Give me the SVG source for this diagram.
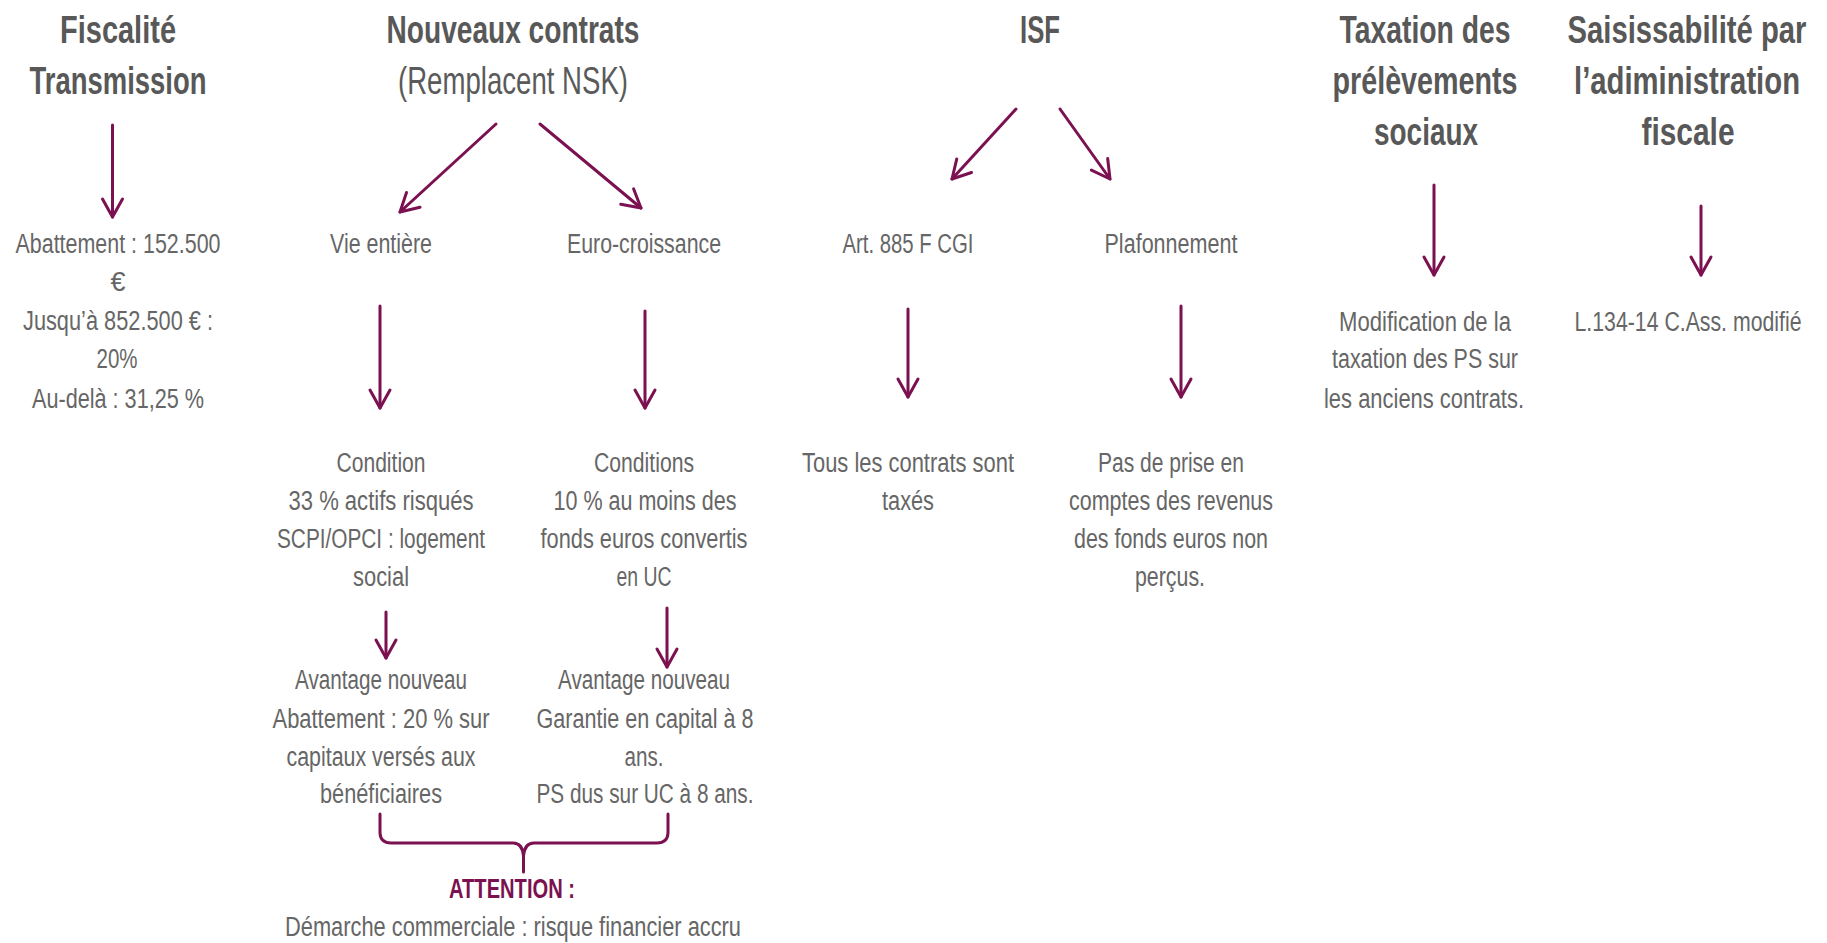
<svg xmlns="http://www.w3.org/2000/svg" width="1827" height="943" viewBox="0 0 1827 943">
<defs>
<style>
text{font-family:"Liberation Sans","DejaVu Sans",sans-serif;text-anchor:middle}
.h{font-size:39px;font-weight:bold;fill:#585858}
.hr{font-size:39px;font-weight:normal;fill:#5a5a5a}
.b{font-size:27px;fill:#666666}
.att{font-size:28px;font-weight:bold;fill:#7b1150}
.c{fill:none;stroke:#7b1150;stroke-width:3;stroke-linecap:round;stroke-linejoin:round}
</style>
<marker id="ah" markerUnits="userSpaceOnUse" markerWidth="40" markerHeight="40" viewBox="-20 -20 40 40" refX="0" refY="0" orient="auto" overflow="visible">
<path d="M-18,-10 L0,0 L-18,10" fill="none" stroke="#7b1150" stroke-width="3" stroke-linecap="round" stroke-linejoin="round"/>
</marker>
</defs>
<rect width="1827" height="943" fill="#ffffff"/>

<g id="n-fiscalite">
<text class="h" x="118" y="43" textLength="116" lengthAdjust="spacingAndGlyphs">Fiscalité</text>
<text class="h" x="118" y="94" textLength="177" lengthAdjust="spacingAndGlyphs">Transmission</text>
</g>
<g id="n-fiscalite-detail">
<text class="b" x="118" y="253" textLength="205" lengthAdjust="spacingAndGlyphs">Abattement : 152.500</text>
<text class="b" x="118" y="291">€</text>
<text class="b" x="118" y="330" textLength="190" lengthAdjust="spacingAndGlyphs">Jusqu’à 852.500 € :</text>
<text class="b" x="117" y="368" textLength="41" lengthAdjust="spacingAndGlyphs">20%</text>
<text class="b" x="118" y="408" textLength="172" lengthAdjust="spacingAndGlyphs">Au-delà : 31,25 %</text>
</g>

<g id="n-nouveaux">
<text class="h" x="513" y="43" textLength="253" lengthAdjust="spacingAndGlyphs">Nouveaux contrats</text>
<text class="hr" x="513" y="94" textLength="230" lengthAdjust="spacingAndGlyphs">(Remplacent NSK)</text>
</g>
<g id="n-vie">
<text class="b" x="381" y="253" textLength="102" lengthAdjust="spacingAndGlyphs">Vie entière</text>
</g>
<g id="n-euro">
<text class="b" x="644" y="253" textLength="154" lengthAdjust="spacingAndGlyphs">Euro-croissance</text>
</g>
<g id="n-vie-condition">
<text class="b" x="381" y="472" textLength="89" lengthAdjust="spacingAndGlyphs">Condition</text>
<text class="b" x="381" y="510" textLength="185" lengthAdjust="spacingAndGlyphs">33 % actifs risqués</text>
<text class="b" x="381" y="548" textLength="208" lengthAdjust="spacingAndGlyphs">SCPI/OPCI : logement</text>
<text class="b" x="381" y="586" textLength="56" lengthAdjust="spacingAndGlyphs">social</text>
</g>
<g id="n-euro-conditions">
<text class="b" x="644" y="472" textLength="100" lengthAdjust="spacingAndGlyphs">Conditions</text>
<text class="b" x="645" y="510" textLength="183" lengthAdjust="spacingAndGlyphs">10 % au moins des</text>
<text class="b" x="644" y="548" textLength="207" lengthAdjust="spacingAndGlyphs">fonds euros convertis</text>
<text class="b" x="644" y="586" textLength="55" lengthAdjust="spacingAndGlyphs">en UC</text>
</g>
<g id="n-vie-avantage">
<text class="b" x="381" y="689" textLength="172" lengthAdjust="spacingAndGlyphs">Avantage nouveau</text>
<text class="b" x="381" y="728" textLength="217" lengthAdjust="spacingAndGlyphs">Abattement : 20 % sur</text>
<text class="b" x="381" y="766" textLength="189" lengthAdjust="spacingAndGlyphs">capitaux versés aux</text>
<text class="b" x="381" y="803" textLength="122" lengthAdjust="spacingAndGlyphs">bénéficiaires</text>
</g>
<g id="n-euro-avantage">
<text class="b" x="644" y="689" textLength="172" lengthAdjust="spacingAndGlyphs">Avantage nouveau</text>
<text class="b" x="645" y="728" textLength="217" lengthAdjust="spacingAndGlyphs">Garantie en capital à 8</text>
<text class="b" x="644" y="766" textLength="39" lengthAdjust="spacingAndGlyphs">ans.</text>
<text class="b" x="645" y="803" textLength="217" lengthAdjust="spacingAndGlyphs">PS dus sur UC à 8 ans.</text>
</g>
<g id="n-attention">
<text class="att" x="512" y="898" textLength="126" lengthAdjust="spacingAndGlyphs">ATTENTION :</text>
<text class="b" x="513" y="936" textLength="456" lengthAdjust="spacingAndGlyphs">Démarche commerciale : risque financier accru</text>
</g>

<g id="n-isf">
<text class="h" x="1040" y="43" textLength="40" lengthAdjust="spacingAndGlyphs">ISF</text>
</g>
<g id="n-art">
<text class="b" x="908" y="253" textLength="131" lengthAdjust="spacingAndGlyphs">Art. 885 F CGI</text>
</g>
<g id="n-plafonnement">
<text class="b" x="1171" y="253" textLength="133" lengthAdjust="spacingAndGlyphs">Plafonnement</text>
</g>
<g id="n-tous">
<text class="b" x="908" y="472" textLength="212" lengthAdjust="spacingAndGlyphs">Tous les contrats sont</text>
<text class="b" x="908" y="510" textLength="52" lengthAdjust="spacingAndGlyphs">taxés</text>
</g>
<g id="n-pas">
<text class="b" x="1171" y="472" textLength="146" lengthAdjust="spacingAndGlyphs">Pas de prise en</text>
<text class="b" x="1171" y="510" textLength="204" lengthAdjust="spacingAndGlyphs">comptes des revenus</text>
<text class="b" x="1171" y="548" textLength="194" lengthAdjust="spacingAndGlyphs">des fonds euros non</text>
<text class="b" x="1170" y="586" textLength="70" lengthAdjust="spacingAndGlyphs">perçus.</text>
</g>

<g id="n-taxation">
<text class="h" transform="translate(1425,43) scale(0.65,1)" x="0" y="0" textLength="263" lengthAdjust="spacingAndGlyphs">Taxation des</text>
<text class="h" transform="translate(1425,94) scale(0.65,1)" x="0" y="0" textLength="284.6" lengthAdjust="spacingAndGlyphs">prélèvements</text>
<text class="h" transform="translate(1426,145) scale(0.65,1)" x="0" y="0" textLength="160" lengthAdjust="spacingAndGlyphs">sociaux</text>
</g>
<g id="n-modification">
<text class="b" x="1425" y="331" textLength="172" lengthAdjust="spacingAndGlyphs">Modification de la</text>
<text class="b" x="1425" y="368" textLength="186" lengthAdjust="spacingAndGlyphs">taxation des PS sur</text>
<text class="b" x="1424" y="408" textLength="200" lengthAdjust="spacingAndGlyphs">les anciens contrats.</text>
</g>

<g id="n-saisissabilite">
<text class="h" transform="translate(1687,43) scale(0.65,1)" x="0" y="0" textLength="367.7" lengthAdjust="spacingAndGlyphs">Saisissabilité par</text>
<text class="h" transform="translate(1687,94) scale(0.65,1)" x="0" y="0" textLength="347.7" lengthAdjust="spacingAndGlyphs">l’adiministration</text>
<text class="h" transform="translate(1688,145) scale(0.65,1)" x="0" y="0" textLength="143.1" lengthAdjust="spacingAndGlyphs">fiscale</text>
</g>
<g id="n-l134">
<text class="b" transform="translate(1688,331) scale(0.75,1)" x="0" y="0" textLength="302.7" lengthAdjust="spacingAndGlyphs">L.134-14 C.Ass. modifié</text>
</g>

<g id="connectors">
<line class="c" x1="112.5" y1="125" x2="112.5" y2="217" marker-end="url(#ah)"/>
<line class="c" x1="496" y1="124" x2="400" y2="212" marker-end="url(#ah)"/>
<line class="c" x1="540" y1="124" x2="641" y2="208" marker-end="url(#ah)"/>
<line class="c" x1="380" y1="306" x2="380" y2="408" marker-end="url(#ah)"/>
<line class="c" x1="645" y1="311" x2="645" y2="408" marker-end="url(#ah)"/>
<line class="c" x1="386" y1="612" x2="386" y2="658" marker-end="url(#ah)"/>
<line class="c" x1="667" y1="608" x2="667" y2="667" marker-end="url(#ah)"/>
<line class="c" x1="1016" y1="109" x2="952" y2="179" marker-end="url(#ah)"/>
<line class="c" x1="1060" y1="109" x2="1110" y2="179" marker-end="url(#ah)"/>
<line class="c" x1="908" y1="309" x2="908" y2="397" marker-end="url(#ah)"/>
<line class="c" x1="1181" y1="306" x2="1181" y2="397" marker-end="url(#ah)"/>
<line class="c" x1="1434" y1="185" x2="1434" y2="275" marker-end="url(#ah)"/>
<line class="c" x1="1701" y1="206" x2="1701" y2="275" marker-end="url(#ah)"/>
<path class="c" d="M380,814 V833 Q380.5,843 391,843 H513 Q522.5,843 523.5,856 V872 M523.5,856 Q524.5,843 534,843 H657 Q667.5,843 668,833 V814"/>
</g>
</svg>
